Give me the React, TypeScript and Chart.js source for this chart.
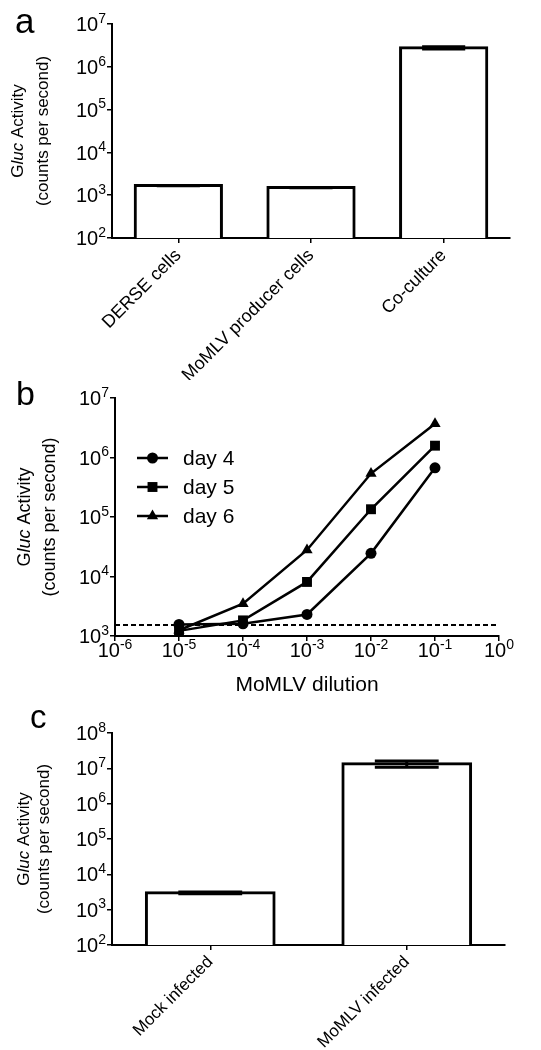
import React, { useEffect, useRef } from 'react';
import { Chart, registerables } from 'chart.js';

Chart.register(...registerables);

const FONT = '"Liberation Sans", Arial, sans-serif';

// ---------- Panel a data ----------
const aCategories = ['DERSE cells', 'MoMLV producer cells', 'Co-culture'];
const aValues = [1680, 1510, 2770000];
const aErrLow = [1670, 1500, 2600000];
const aErrHigh = [1690, 1520, 2950000];
const aTickExps = [2, 3, 4, 5, 6, 7];

// ---------- Panel b data ----------
const bDilutions = [1e-5, 1e-4, 1e-3, 1e-2, 1e-1];
const bDay4 = [1560, 1600, 2300, 24500, 670000];
const bDay5 = [1220, 1830, 8100, 135000, 1580000];
const bDay6 = [1250, 3500, 27900, 537000, 3700000];
const bLabels = ['day 4', 'day 5', 'day 6'];
const bCutoff = 1530;
const bCutoffRange = [1e-6, 1];
const bYTickExps = [3, 4, 5, 6, 7];
const bXTickExps = [-6, -5, -4, -3, -2, -1, 0];

// ---------- Panel c data ----------
const cCategories = ['Mock infected', 'MoMLV infected'];
const cValues = [3000, 13500000];
const cErrLow = [2830, 10700000];
const cErrHigh = [3180, 16000000];
const cTickExps = [2, 3, 4, 5, 6, 7, 8];

type Seg = { t: string; italic?: boolean };
const yTitleLine1: Seg[] = [{ t: 'G' }, { t: 'luc', italic: true }, { t: ' Activity' }];
const yTitleLine2 = '(counts per second)';

const TICK_BASE = 20;
const TICK_SUP = 14;

function drawPow(ctx: CanvasRenderingContext2D, x: number, yc: number, exp: number, align: 'right' | 'center') {
  const base = TICK_BASE;
  const sup = TICK_SUP;
  const b = '10';
  const e = String(exp);
  ctx.font = `${base}px ${FONT}`;
  const wb = ctx.measureText(b).width;
  ctx.font = `${sup}px ${FONT}`;
  const we = ctx.measureText(e).width;
  const total = wb + we;
  const x0 = align === 'right' ? x - total : x - total / 2;
  const baseline = yc + base * 0.358;
  ctx.textAlign = 'left';
  ctx.textBaseline = 'alphabetic';
  ctx.fillStyle = '#000';
  ctx.font = `${base}px ${FONT}`;
  ctx.fillText(b, x0, baseline);
  ctx.font = `${sup}px ${FONT}`;
  ctx.fillText(e, x0 + wb, baseline - base * 0.42);
}

function drawYTitle(ctx: CanvasRenderingContext2D, cx1: number, cx2: number, cy: number, size: number) {
  ctx.save();
  ctx.fillStyle = '#000';
  ctx.textBaseline = 'middle';
  ctx.textAlign = 'left';
  const fonts = yTitleLine1.map((s) => `${s.italic ? 'italic ' : ''}${size}px ${FONT}`);
  const widths = yTitleLine1.map((s, i) => {
    ctx.font = fonts[i];
    return ctx.measureText(s.t).width;
  });
  const total = widths.reduce((a, b) => a + b, 0);
  ctx.translate(cx1, cy);
  ctx.rotate(-Math.PI / 2);
  let x = -total / 2;
  yTitleLine1.forEach((s, i) => {
    ctx.font = fonts[i];
    ctx.fillText(s.t, x, 0);
    x += widths[i];
  });
  ctx.restore();
  ctx.save();
  ctx.fillStyle = '#000';
  ctx.textBaseline = 'middle';
  ctx.textAlign = 'center';
  ctx.font = `${size}px ${FONT}`;
  ctx.translate(cx2, cy);
  ctx.rotate(-Math.PI / 2);
  ctx.fillText(yTitleLine2, 0, 0);
  ctx.restore();
}

function drawMarker(ctx: CanvasRenderingContext2D, style: string, x: number, y: number, r: number) {
  ctx.beginPath();
  if (style === 'circle') {
    ctx.arc(x, y, r, 0, Math.PI * 2);
  } else if (style === 'rect') {
    const s = r * Math.SQRT1_2;
    ctx.rect(x - s, y - s, 2 * s, 2 * s);
  } else if (style === 'triangle') {
    let rad = 0;
    ctx.moveTo(x + Math.sin(rad) * r, y - Math.cos(rad) * r);
    rad += (2 * Math.PI) / 3;
    ctx.lineTo(x + Math.sin(rad) * r, y - Math.cos(rad) * r);
    rad += (2 * Math.PI) / 3;
    ctx.lineTo(x + Math.sin(rad) * r, y - Math.cos(rad) * r);
    ctx.closePath();
  }
  ctx.fill();
}

const axisGrid = { display: true, drawOnChartArea: false, drawTicks: true, tickLength: 5, color: '#000', lineWidth: 1.5 };
const axisBorder = { display: true, color: '#000', width: 2 };

function powTicks(exps: number[]) {
  return (scale: any) => {
    scale.ticks = exps.map((e) => ({ value: Math.pow(10, e) }));
  };
}

function decorPlugin(cfg: {
  letter: string; lx: number; ly: number; lsize: number;
  yExps: number[]; xExps?: number[];
  t1: number; t2: number; tsize: number;
  err?: { low: number[]; high: number[] };
  legend?: { x1: number; x2: number; tx: number; y0: number; dy: number };
  xTitle?: { text: string; x: number; y: number; size: number };
}) {
  return {
    id: 'decor',
    afterDatasetsDraw(chart: any) {
      const ctx: CanvasRenderingContext2D = chart.ctx;
      const ys = chart.scales.y;
      ctx.save();
      if (cfg.err) {
        const meta = chart.getDatasetMeta(0);
        ctx.strokeStyle = '#000';
        ctx.lineWidth = 3;
        meta.data.forEach((bar: any, i: number) => {
          const x = bar.x;
          const w = bar.width * 0.5;
          const yl = ys.getPixelForValue(cfg.err!.low[i]);
          const yh = ys.getPixelForValue(cfg.err!.high[i]);
          ctx.beginPath();
          ctx.moveTo(x, yl);
          ctx.lineTo(x, yh);
          ctx.moveTo(x - w / 2, yl);
          ctx.lineTo(x + w / 2, yl);
          ctx.moveTo(x - w / 2, yh);
          ctx.lineTo(x + w / 2, yh);
          ctx.stroke();
        });
      }
      ctx.restore();
    },
    afterDraw(chart: any) {
      const ctx: CanvasRenderingContext2D = chart.ctx;
      const area = chart.chartArea;
      const ys = chart.scales.y;
      ctx.save();
      ctx.fillStyle = '#000';
      ctx.font = `${cfg.lsize}px ${FONT}`;
      ctx.textAlign = 'left';
      ctx.textBaseline = 'alphabetic';
      ctx.fillText(cfg.letter, cfg.lx, cfg.ly);
      cfg.yExps.forEach((e) => {
        const y = ys.getPixelForValue(Math.pow(10, e));
        drawPow(ctx, area.left - 6, y, e, 'right');
      });
      if (cfg.xExps) {
        const xs = chart.scales.x;
        cfg.xExps.forEach((e) => {
          const x = xs.getPixelForValue(Math.pow(10, e));
          drawPow(ctx, x, area.bottom + 14, e, 'center');
        });
      }
      drawYTitle(ctx, cfg.t1, cfg.t2, (area.top + area.bottom) / 2, cfg.tsize);
      if (cfg.xTitle) {
        ctx.fillStyle = '#000';
        ctx.font = `${cfg.xTitle.size}px ${FONT}`;
        ctx.textAlign = 'center';
        ctx.textBaseline = 'middle';
        ctx.fillText(cfg.xTitle.text, cfg.xTitle.x, cfg.xTitle.y);
      }
      if (cfg.legend) {
        const lg = cfg.legend;
        const entries = chart.data.datasets
          .filter((d: any) => bLabels.includes(d.label))
          .sort((p: any, q: any) => bLabels.indexOf(p.label) - bLabels.indexOf(q.label));
        entries.forEach((d: any, i: number) => {
          const y = lg.y0 + i * lg.dy;
          ctx.strokeStyle = '#000';
          ctx.fillStyle = '#000';
          ctx.lineWidth = 2.5;
          ctx.beginPath();
          ctx.moveTo(lg.x1, y);
          ctx.lineTo(lg.x2, y);
          ctx.stroke();
          drawMarker(ctx, d.pointStyle, (lg.x1 + lg.x2) / 2, y, d.pointRadius);
          ctx.font = `21px ${FONT}`;
          ctx.textAlign = 'left';
          ctx.textBaseline = 'middle';
          ctx.fillText(d.label, lg.tx, y + 1);
        });
      }
      ctx.restore();
    },
  };
}

function useChart(ref: React.RefObject<HTMLCanvasElement | null>, make: () => any) {
  useEffect(() => {
    if (!ref.current) return;
    const chart = new Chart(ref.current, make());
    return () => chart.destroy();
  }, []);
}

function barConfig(opts: {
  cats: string[]; vals: number[]; low: number[]; high: number[]; exps: number[];
  min: number; max: number; top: number; right: number; xHeight: number; labelSize: number;
  letter: string; lx: number; ly: number; lsize: number; t1: number; t2: number; tsize: number;
}) {
  return {
    type: 'bar',
    data: {
      labels: opts.cats,
      datasets: [
        {
          data: opts.vals,
          backgroundColor: '#fff',
          borderColor: '#000',
          borderWidth: 3,
          inflateAmount: 1.5,
          borderSkipped: 'start',
          categoryPercentage: 1,
          barPercentage: 0.65,
        },
      ],
    },
    options: {
      responsive: false,
      animation: false,
      events: [],
      layout: { padding: { top: opts.top, right: opts.right, left: 0, bottom: 0 } },
      plugins: { legend: { display: false }, tooltip: { enabled: false } },
      scales: {
        x: {
          type: 'category',
          offset: true,
          grid: { ...axisGrid, offset: false },
          border: axisBorder,
          ticks: {
            minRotation: 45,
            maxRotation: 45,
            color: '#000',
            padding: 2,
            font: { family: FONT, size: opts.labelSize },
          },
          afterFit: (s: any) => {
            s.height = opts.xHeight;
          },
        },
        y: {
          type: 'logarithmic',
          min: opts.min,
          max: opts.max,
          afterBuildTicks: powTicks(opts.exps),
          ticks: { display: false },
          grid: axisGrid,
          border: axisBorder,
          afterFit: (s: any) => {
            s.width = 112;
          },
        },
      },
    },
    plugins: [
      decorPlugin({
        letter: opts.letter, lx: opts.lx, ly: opts.ly, lsize: opts.lsize,
        yExps: opts.exps, t1: opts.t1, t2: opts.t2, tsize: opts.tsize,
        err: { low: opts.low, high: opts.high },
      }),
    ],
  };
}

function lineConfig() {
  const pts = (vals: number[]) => bDilutions.map((x, i) => ({ x, y: vals[i] }));
  const common = { borderColor: '#000', backgroundColor: '#000', borderWidth: 2.5, pointBorderWidth: 0 };
  return {
    type: 'line',
    data: {
      datasets: [
        { label: 'cutoff', data: bCutoffRange.map((x) => ({ x, y: bCutoff })), borderColor: '#000', borderWidth: 2, borderDash: [5, 3], pointRadius: 0 },
        { label: bLabels[2], data: pts(bDay6), ...common, pointStyle: 'triangle', pointRadius: 6.5 },
        { label: bLabels[1], data: pts(bDay5), ...common, pointStyle: 'rect', pointRadius: 7 },
        { label: bLabels[0], data: pts(bDay4), ...common, pointStyle: 'circle', pointRadius: 5.5 },
      ],
    },
    options: {
      responsive: false,
      animation: false,
      events: [],
      layout: { padding: { top: 18, right: 42, left: 0, bottom: 0 } },
      plugins: { legend: { display: false }, tooltip: { enabled: false } },
      scales: {
        x: {
          type: 'logarithmic',
          min: 1e-6,
          max: 1,
          afterBuildTicks: powTicks(bXTickExps),
          ticks: { display: false },
          grid: axisGrid,
          border: axisBorder,
          afterFit: (s: any) => {
            s.height = 64;
          },
        },
        y: {
          type: 'logarithmic',
          min: 1000,
          max: 1e7,
          afterBuildTicks: powTicks(bYTickExps),
          ticks: { display: false },
          grid: axisGrid,
          border: axisBorder,
          afterFit: (s: any) => {
            s.width = 115;
          },
        },
      },
    },
    plugins: [
      decorPlugin({
        letter: 'b', lx: 16, ly: 25, lsize: 34,
        yExps: bYTickExps, xExps: bXTickExps,
        t1: 25, t2: 50, tsize: 18,
        legend: { x1: 137, x2: 168, tx: 183, y0: 78, dy: 29 },
        xTitle: { text: 'MoMLV dilution', x: 307, y: 305, size: 21 },
      }),
    ],
  };
}

export default function App() {
  const refA = useRef<HTMLCanvasElement>(null);
  const refB = useRef<HTMLCanvasElement>(null);
  const refC = useRef<HTMLCanvasElement>(null);

  useChart(refA, () =>
    barConfig({
      cats: aCategories, vals: aValues, low: aErrLow, high: aErrHigh, exps: aTickExps,
      min: 100, max: 1e7, top: 24, right: 31, xHeight: 380 - 238, labelSize: 18,
      letter: 'a', lx: 15, ly: 33, lsize: 35, t1: 18, t2: 43, tsize: 17,
    })
  );
  useChart(refB, () => lineConfig());
  useChart(refC, () =>
    barConfig({
      cats: cCategories, vals: cValues, low: cErrLow, high: cErrHigh, exps: cTickExps,
      min: 100, max: 1e8, top: 33, right: 36, xHeight: 350 - 245, labelSize: 17,
      letter: 'c', lx: 30, ly: 28, lsize: 33, t1: 24, t2: 44, tsize: 17,
    })
  );

  return (
    <div style={{ position: 'absolute', left: 0, top: 0, width: 541, height: 1050, background: '#fff' }}>
      <canvas ref={refA} width={541} height={380} style={{ position: 'absolute', left: 0, top: 0 }} />
      <canvas ref={refB} width={541} height={320} style={{ position: 'absolute', left: 0, top: 380 }} />
      <canvas ref={refC} width={541} height={350} style={{ position: 'absolute', left: 0, top: 700 }} />
    </div>
  );
}
